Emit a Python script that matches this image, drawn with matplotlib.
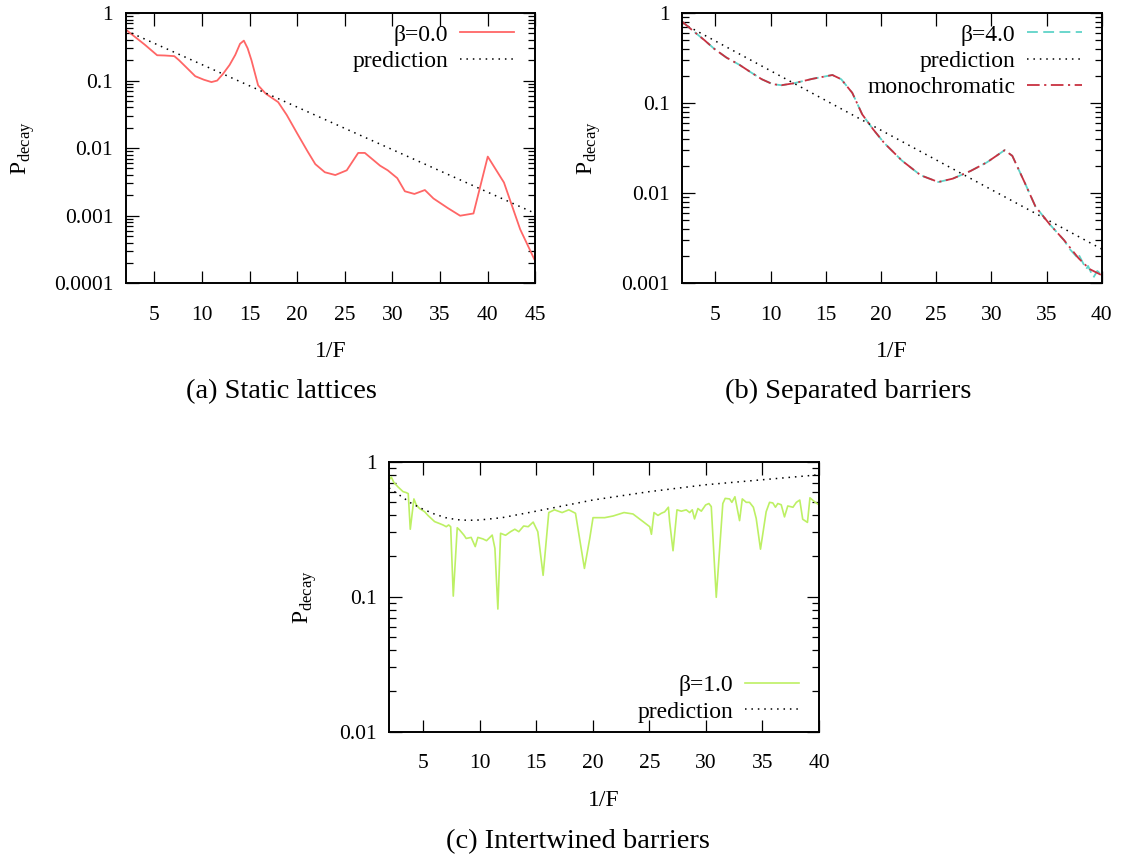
import numpy as np
import matplotlib
matplotlib.use("Agg")
import matplotlib.pyplot as plt
from matplotlib.ticker import FixedLocator, LogLocator, FuncFormatter, NullFormatter

plt.rcParams["font.family"] = ["Liberation Serif", "DejaVu Serif"]
plt.rcParams["mathtext.fontset"] = "custom"
plt.rcParams["mathtext.rm"] = "Liberation Serif"

# ── (a) static lattices ─────────────────────────────────────────────────
a_x = [2.0, 3.0, 4.0, 5.3, 6.1, 7.1, 7.6, 8.5, 9.3, 10.2, 11.0, 11.6, 12.2, 12.9,
       13.5, 14.0, 14.4, 14.8, 15.2, 15.9, 16.7, 18.0, 18.9, 20.0, 21.1, 21.9,
       22.9, 24.0, 25.2, 26.4, 27.1, 28.7, 29.5, 30.5, 31.3, 32.3, 33.4, 34.3,
       35.8, 37.1, 38.5, 40.0, 41.7, 43.4, 45.0]
a_y = [0.57, 0.44, 0.34, 0.237, 0.235, 0.23, 0.2, 0.15, 0.116, 0.103, 0.095, 0.1,
       0.125, 0.17, 0.24, 0.35, 0.39, 0.3, 0.2, 0.085, 0.064, 0.048, 0.031, 0.0165,
       0.0089, 0.0058, 0.0044, 0.0040, 0.0047, 0.0085, 0.0085, 0.0055, 0.0047,
       0.0036, 0.0023, 0.0021, 0.0024, 0.0018, 0.0013, 0.0010, 0.00108, 0.0075,
       0.0031, 0.00063, 0.00021]
a_pred_x = [2.0, 45.0]
a_pred_y = [0.55, 0.00108]

# ── (b) separated barriers ──────────────────────────────────────────────
mono_x = [2.0, 3.0, 4.0, 4.9, 6.0, 7.2, 8.2, 9.2, 10.2, 11.0, 12.1, 13.8, 15.6,
          16.4, 17.4, 18.3, 19.3, 20.3, 21.9, 23.6, 25.2, 26.5, 28.1, 29.6, 31.2,
          31.9, 33.0, 34.0, 35.3, 36.6, 37.9, 38.9, 40.0]
mono_y = [0.80, 0.63, 0.50, 0.40, 0.32, 0.265, 0.22, 0.184, 0.162, 0.158, 0.166,
          0.186, 0.205, 0.184, 0.13, 0.075, 0.051, 0.036, 0.023, 0.0158, 0.0133,
          0.0145, 0.0176, 0.022, 0.030, 0.026, 0.0133, 0.0071, 0.0045, 0.003,
          0.0019, 0.00144, 0.00123]
b4_x = [2.0, 3.0, 4.0, 4.9, 6.0, 7.2, 8.2, 9.2, 10.2, 11.0, 12.1, 13.8, 15.6,
        16.4, 17.4, 18.3, 19.3, 20.3, 21.9, 23.6, 25.2, 26.5, 28.1, 29.6, 31.2,
        31.9, 33.0, 34.0, 35.3, 36.6, 37.1, 37.8, 37.9, 38.6, 38.76, 39.25, 39.6, 40.0]
b4_y = [0.80, 0.63, 0.50, 0.40, 0.32, 0.265, 0.22, 0.184, 0.162, 0.158, 0.166,
        0.186, 0.205, 0.184, 0.13, 0.075, 0.051, 0.036, 0.023, 0.0158, 0.0133,
        0.0145, 0.0176, 0.022, 0.030, 0.026, 0.0133, 0.0071, 0.0045, 0.003,
        0.0024, 0.00193, 0.0021, 0.00143, 0.00156, 0.00116, 0.00137, 0.00124]
b_pred_x = [2.0, 40.0]
b_pred_y = [0.77, 0.0024]

# ── (c) intertwined barriers ────────────────────────────────────────────
c_x = [2.0, 2.2, 2.44, 2.8, 3.24, 3.53, 3.7, 3.88, 4.2, 4.41, 4.7, 5.15, 5.44,
       5.73, 6.03, 6.4, 6.77, 7.06, 7.27, 7.45, 7.68, 8.03, 8.24, 8.62, 8.82,
       9.26, 9.62, 9.85, 10.3, 10.62, 11.12, 11.36, 11.62, 11.86, 12.3, 12.74,
       13.12, 13.47, 13.9, 14.3, 14.74, 15.15, 15.62, 16.12, 16.62, 17.3, 17.89,
       18.48, 19.27, 19.74, 20.03, 21.06, 21.8, 22.77, 23.56, 24.45, 25.04, 25.19,
       25.42, 25.77, 26.07, 26.36, 26.69, 26.8, 27.1, 27.45, 27.83, 28.27, 28.57,
       28.8, 29.0, 29.3, 29.6, 29.98, 30.27, 30.48, 30.92, 31.5, 31.71, 32.1,
       32.3, 32.57, 32.75, 32.98, 33.22, 33.57, 33.86, 34.2, 34.45, 34.83, 35.33,
       35.63, 35.92, 36.15, 36.36, 36.66, 36.95, 37.24, 37.7, 38.0, 38.3, 38.56,
       38.98, 39.2, 39.67, 40.0]
c_y = [0.73, 0.77, 0.70, 0.65, 0.60, 0.59, 0.58, 0.316, 0.53, 0.478, 0.45, 0.426,
       0.40, 0.38, 0.36, 0.35, 0.34, 0.33, 0.34, 0.33, 0.101, 0.324, 0.312, 0.286,
       0.27, 0.275, 0.235, 0.275, 0.268, 0.26, 0.286, 0.228, 0.081, 0.295, 0.285,
       0.303, 0.316, 0.303, 0.334, 0.33, 0.357, 0.303, 0.144, 0.42, 0.44, 0.42,
       0.44, 0.415, 0.162, 0.27, 0.385, 0.385, 0.396, 0.42, 0.41, 0.36, 0.33, 0.29,
       0.42, 0.40, 0.415, 0.425, 0.46, 0.36, 0.219, 0.44, 0.43, 0.44, 0.42, 0.44,
       0.377, 0.45, 0.43, 0.478, 0.49, 0.465, 0.099, 0.49, 0.535, 0.53, 0.50, 0.55,
       0.46, 0.366, 0.53, 0.50, 0.50, 0.46, 0.38, 0.225, 0.426, 0.50, 0.495, 0.46,
       0.49, 0.48, 0.39, 0.47, 0.46, 0.50, 0.52, 0.375, 0.355, 0.54, 0.50, 0.48]
c_pred_x = [2, 3, 4, 5, 6, 7, 8, 9, 10, 12, 15, 20, 25, 30, 35, 40]
c_pred_y = [0.64, 0.56, 0.49, 0.445, 0.41, 0.385, 0.372, 0.368, 0.37, 0.385,
            0.43, 0.52, 0.60, 0.675, 0.735, 0.80]

RED = "#ff6666"
CYAN = "#5fd3c8"
DRED = "#c83040"
GREEN = "#bdf064"
DOT = (0, (1, 3.2))

W, H = 1126, 858
fig = plt.figure(figsize=(W / 100, H / 100), dpi=100)


def px_axes(left, top, right, bottom):
    return fig.add_axes([left / W, 1 - bottom / H, (right - left) / W, (bottom - top) / H])


def style(ax, xmax, ymin, xticks):
    ax.set_yscale("log")
    ax.set_xlim(2, xmax)
    ax.set_ylim(ymin, 1)
    ax.xaxis.set_major_locator(FixedLocator(xticks))
    ax.yaxis.set_major_locator(LogLocator(base=10))
    ax.yaxis.set_minor_locator(LogLocator(base=10, subs=np.arange(2, 10)))
    ax.yaxis.set_major_formatter(FuncFormatter(lambda v, p: f"{v:g}"))
    ax.yaxis.set_minor_formatter(NullFormatter())
    ax.tick_params(which="both", direction="in", top=True, right=True, width=0.9)
    ax.tick_params(which="major", length=9, labelsize=15.5)
    ax.tick_params(which="minor", length=5)
    ax.tick_params(axis="x", pad=16)
    ax.tick_params(axis="y", pad=9)
    for s in ax.spines.values():
        s.set_linewidth(1.4)


def labels(ax, ylab_x, xlab_y):
    ax.set_ylabel(r"$\mathrm{P}_{\mathrm{decay}}$", fontsize=17)
    ax.yaxis.set_label_coords(ylab_x, 0.5)
    ax.yaxis.label.set_va("center")
    ax.set_xlabel("1/F", fontsize=17)
    ax.xaxis.set_label_coords(0.5, xlab_y)
    ax.xaxis.label.set_va("center")


LEG = dict(frameon=False, markerfirst=False, fontsize=17, handlelength=2.3,
           handletextpad=0.5, labelspacing=0.2, borderpad=0, borderaxespad=0)

# (a)
axa = px_axes(125.7, 13, 535.4, 283.3)
axa.plot(a_x, a_y, color=RED, lw=1.3, label="β=0.0")
axa.plot(a_pred_x, a_pred_y, color="black", lw=1.1, ls=DOT, label="prediction")
style(axa, 45, 1e-4, range(5, 46, 5))
labels(axa, -0.25, -0.253)
axa.legend(loc="upper right", bbox_to_anchor=(1 - 21 / 409.7, 1 - 11 / 270), **LEG)

# (b)
axb = px_axes(682.3, 13, 1101.7, 283.3)
axb.plot(b4_x, b4_y, color=CYAN, lw=1.3, dashes=(6, 3), label="β=4.0")
axb.plot(b_pred_x, b_pred_y, color="black", lw=1.1, ls=DOT, label="prediction")
axb.plot(mono_x, mono_y, color=DRED, lw=1.3, dashes=(7, 2.5, 1.2, 2.5), label="monochromatic")
style(axb, 40, 1e-3, range(5, 41, 5))
labels(axb, -0.222, -0.253)
axb.legend(loc="upper right", bbox_to_anchor=(1 - 20 / 419.4, 1 - 11 / 270), **LEG)

# (c)
axc = px_axes(389, 461.7, 819, 731.7)
axc.plot(c_x, c_y, color=GREEN, lw=1.2, label="β=1.0")
axc.plot(c_pred_x, c_pred_y, color="black", lw=1.1, ls=DOT, label="prediction")
style(axc, 40, 1e-2, range(5, 41, 5))
labels(axc, -0.195, -0.253)
axc.legend(loc="lower right", bbox_to_anchor=(1 - 20 / 430, 9 / 270), **LEG)

# captions
fig.text(281 / W, 1 - 391.7 / H, "(a) Static lattices", ha="center", va="center", fontsize=20.5)
fig.text(848 / W, 1 - 391.7 / H, "(b) Separated barriers", ha="center", va="center", fontsize=20.5)
fig.text(578 / W, 1 - 842 / H, "(c) Intertwined barriers", ha="center", va="center", fontsize=20.5)

fig.savefig("out.png", dpi=100)
